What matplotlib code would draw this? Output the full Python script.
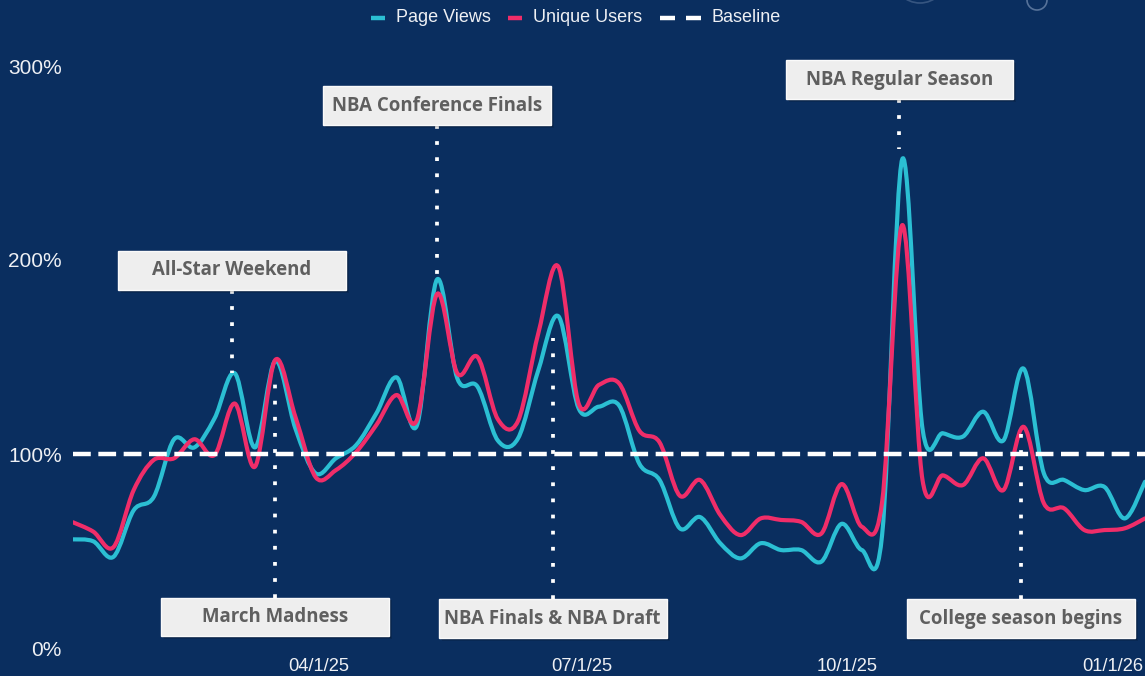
import matplotlib
matplotlib.use('Agg')
import matplotlib.pyplot as plt
import matplotlib.dates as mdates
import matplotlib.transforms as mtransforms
from matplotlib.path import Path
from matplotlib.patches import PathPatch, Rectangle, Circle
from matplotlib.lines import Line2D
from matplotlib.offsetbox import DrawingArea, TextArea, HPacker, AnchoredOffsetbox
import numpy as np
import pandas as pd

# ---------------- data ----------------
dates = pd.date_range('2025-01-06', periods=54, freq='7D')
page_views = [56, 55, 47, 71, 78, 107.6, 103.4, 118.4, 141.6, 103.4,
              148, 113, 90, 97.8, 104.6, 121, 139.5, 114.6, 190, 139,
              134.7, 107, 108, 143, 171, 123.5, 124.4, 125, 95, 86.6,
              61.7, 67.5, 54, 46.2, 54, 50.5, 50.5, 44.5, 64, 50.5,
              58, 252, 113, 110.7, 109, 121.8, 107, 144, 90, 86.6,
              81.4, 83, 66.8, 85.7]
unique_users = [64.8, 60, 52, 81.4, 97, 97.8, 107.6, 99.5, 126, 93.5,
                148.5, 119, 88, 91.7, 101, 115, 130.4, 117.5, 182.5, 141.6,
                150, 118, 117, 162, 196.5, 126, 135.6, 136.4, 112, 106,
                78.5, 86.6, 68.6, 58.2, 66.8, 66, 65, 59, 84.5, 62.5,
                75, 218, 86.6, 89, 84, 97.8, 81.4, 114, 74.6, 72,
                60.8, 60.8, 61.7, 66.8]
baseline_value = 100
series_names = ['Page Views', 'Unique Users', 'Baseline']

y_ticks = [0, 100, 200, 300]
y_tick_labels = ['0%', '100%', '200%', '300%']
x_ticks = ['2025-04-01', '2025-07-01', '2025-10-01', '2026-01-01']
x_tick_labels = ['04/1/25', '07/1/25', '10/1/25', '01/1/26']

event_names = ['All-Star Weekend', 'March Madness', 'NBA Conference Finals',
               'NBA Finals & NBA Draft', 'NBA Regular Season', 'College season begins']
event_dates = ['2025-03-02', '2025-03-17', '2025-05-12',
               '2025-06-21', '2025-10-19', '2025-11-30']
event_values = [142, 142, 188, 160, 257, 111.5]

# ---------------- style / layout ----------------
BG = '#0a2e5f'
CYAN = '#2bbfd3'
PINK = '#f02d69'
TXT = '#eef0f4'
box_centers = [194.6, 16, 279.6, 15.2, 293, 15.2]   # vertical placement of label boxes (%)
BOX_W_DAYS = 78.8
BOX_H = 20.0

plt.rcParams['font.family'] = ['Liberation Sans', 'DejaVu Sans']

fig = plt.figure(figsize=(11.45, 6.76), dpi=100, facecolor=BG)
ax = fig.add_axes([73 / 1145, 28 / 676, 1 - 73 / 1145, (648 - 66) / 676])
ax.set_facecolor(BG)
for s in ax.spines.values():
    s.set_visible(False)

xnum = mdates.date2num(dates)
ax.set_xlim(xnum[0], xnum[-1])
ax.set_ylim(0, 300)


def catmull_rom_path(x, y):
    P = np.column_stack([np.asarray(x, float), np.asarray(y, float)])
    E = np.vstack([P[0], P, P[-1]])
    verts = [P[0]]
    codes = [Path.MOVETO]
    for i in range(len(P) - 1):
        p0, p1, p2, p3 = E[i], E[i + 1], E[i + 2], E[i + 3]
        verts += [p1 + (p2 - p0) / 6, p2 - (p3 - p1) / 6, p2]
        codes += [Path.CURVE4] * 3
    return Path(verts, codes)


for vals, col, z in [(page_views, CYAN, 3), (unique_users, PINK, 4)]:
    ax.add_patch(PathPatch(catmull_rom_path(xnum, vals), fill=False, edgecolor=col,
                           lw=3.0, capstyle='round', joinstyle='round', zorder=z))

ax.axhline(baseline_value, color='white', lw=3.2, dashes=(4, 1.7), zorder=5)

# axes ticks
ax.set_yticks(y_ticks)
ax.set_yticklabels(y_tick_labels)
ax.set_xticks(mdates.date2num(pd.to_datetime(x_ticks)))
ax.set_xticklabels(x_tick_labels)
ax.tick_params(axis='y', length=0, pad=8, labelsize=15, labelcolor=TXT)
ax.tick_params(axis='x', length=0, pad=7, labelsize=13.2, labelcolor=TXT)

# event annotations
for name, d, v, bc in zip(event_names, event_dates, event_values, box_centers):
    xd = mdates.date2num(pd.Timestamp(d))
    edge = bc - BOX_H / 2 if v < bc else bc + BOX_H / 2
    ax.plot([xd, xd], [edge, v], color='white', lw=2.7, dashes=(1.0, 3.3),
            solid_capstyle='butt', zorder=6, clip_on=False)
    left = xd - BOX_W_DAYS / 2
    bottom = bc - BOX_H / 2
    for k, a in enumerate([0.12, 0.18, 0.25]):
        off = 3 - k
        ax.add_patch(Rectangle((left + 0.35 * off, bottom - 0.5 * off), BOX_W_DAYS, BOX_H,
                               facecolor='black', edgecolor='none', alpha=a,
                               zorder=7, clip_on=False))
    ax.add_patch(Rectangle((left, bottom), BOX_W_DAYS, BOX_H, facecolor='#eeeeee',
                           edgecolor='#fafafa', lw=1, zorder=8, clip_on=False))
    ax.text(xd, bc, name, ha='center', va='center', fontsize=13.4, fontweight='bold',
            family=['Open Sans', 'DejaVu Sans'], color='#5f5f5f', zorder=9, clip_on=False)

# legend (custom row of handles)
def handle_area(color, dashed=False):
    if dashed:
        da = DrawingArea(29.5, 10, 0, 0)
        da.add_artist(Line2D([0, 10.8], [5, 5], color=color, lw=3.2, solid_capstyle='butt'))
        da.add_artist(Line2D([18.7, 29.5], [5, 5], color=color, lw=3.2, solid_capstyle='butt'))
    else:
        da = DrawingArea(10, 10, 0, 0)
        da.add_artist(Line2D([0, 10], [5, 5], color=color, lw=3.2, solid_capstyle='butt'))
    return da

items = []
for name, col, dashed in zip(series_names, [CYAN, PINK, 'white'], [False, False, True]):
    ta = TextArea(name, textprops=dict(color=TXT, fontsize=13))
    items.append(HPacker(children=[handle_area(col, dashed), ta], sep=7.5, align='center'))
row = HPacker(children=items, sep=13, align='center')
anch = AnchoredOffsetbox(loc='upper center', child=row, pad=0, borderpad=0, frameon=False,
                         bbox_to_anchor=(0.503, 1 - 9 / 676), bbox_transform=fig.transFigure)
fig.add_artist(anch)

# faint decorative circles at top edge
idt = mtransforms.IdentityTransform()
fig.add_artist(Circle((1037, 676), 10, transform=idt, fill=False,
                      edgecolor='#8aa0c0', lw=1.2, alpha=0.6))
fig.add_artist(Circle((920, 700), 27, transform=idt, fill=False,
                      edgecolor='#8aa0c0', lw=1.2, alpha=0.35))

fig.savefig('out.png', dpi=100, facecolor=BG)
